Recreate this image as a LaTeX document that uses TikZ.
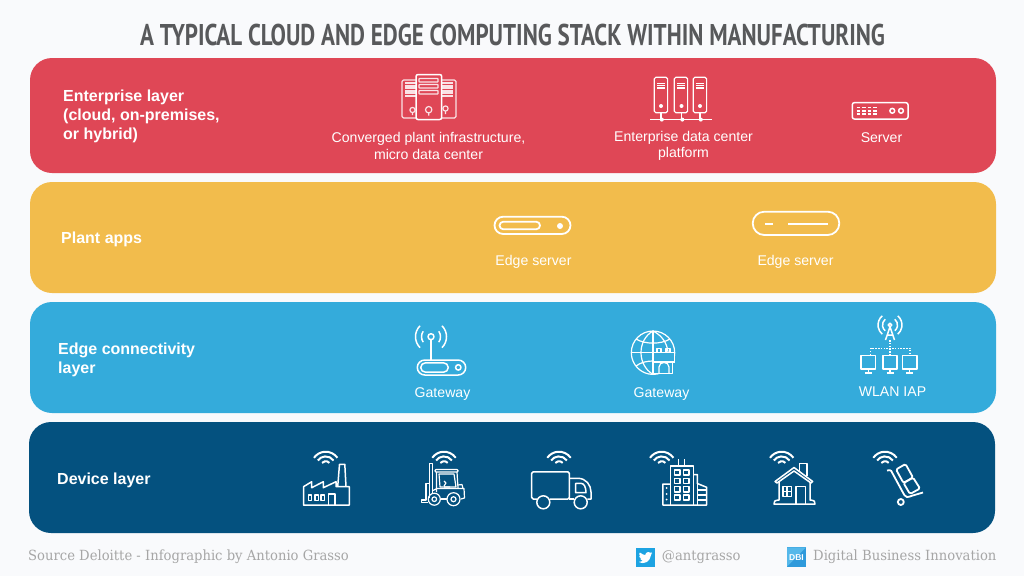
\documentclass[tikz,border=0pt]{standalone}
\usepackage{fontspec}
\setmainfont{Liberation Sans}
\newfontfamily\titlefont[FakeStretch=0.767]{PT Sans Bold}
\newfontfamily\slabfont[FakeStretch=0.94]{DejaVu Serif}
\definecolor{bgc}{HTML}{F9FAFC}
\definecolor{redc}{HTML}{DF4756}
\definecolor{yelc}{HTML}{F2BC4C}
\definecolor{bluc}{HTML}{34ABDB}
\definecolor{navc}{HTML}{04517F}
\definecolor{titc}{HTML}{58595B}
\definecolor{grec}{HTML}{A6A6A6}
\definecolor{twic}{HTML}{1DA3E2}
\definecolor{dbic}{HTML}{2F9ADB}
\definecolor{dbil}{HTML}{55B8EA}
\tikzset{
  panel/.style={rounded corners=22pt,inner sep=0,outer sep=0,minimum width=966pt},
  sub/.style={text=white,font=\fontsize{14.1}{16.5}\selectfont,align=center,inner sep=0},
  lay/.style={text=white,font=\fontsize{16}{19}\selectfont\bfseries,align=left,inner sep=0,anchor=west},
  foot/.style={text=grec,inner sep=0},
  ic/.style={draw=white,line width=1.5pt,line join=round},
  icf/.style={fill=white,draw=none},
  pics/wifi/.style={code={
    \draw[white,line width=2pt] (35:14.3pt) arc[start angle=35,end angle=145,radius=14.3pt];
    \draw[white,line width=2pt] (35:9.6pt) arc[start angle=35,end angle=145,radius=9.6pt];
    \draw[white,line width=2pt] (40:4.8pt) arc[start angle=40,end angle=140,radius=4.8pt];
  }}
}
\begin{document}
\begin{tikzpicture}[x=1pt,y=-1pt]
\useasboundingbox (0,0) rectangle (1024,576);
\fill[bgc] (0,0) rectangle (1024,576);
\node[text=titc,inner sep=0,font=\fontsize{30}{32}\selectfont\titlefont] (title) at (512.5,35) {A TYPICAL CLOUD AND EDGE COMPUTING STACK WITHIN MANUFACTURING};

\node[panel,fill=redc,minimum height=115pt] (p1) at (513,115.5) {};
\node[panel,fill=yelc,minimum height=111pt] (p2) at (513,237.5) {};
\node[panel,fill=bluc,minimum height=111pt] (p3) at (513,357.5) {};
\node[panel,fill=navc,minimum height=111pt] (p4) at (512,477.5) {};

\node[lay] (l1) at (63,116.5) {Enterprise layer\\(cloud, on-premises,\\or hybrid)};
\node[lay] (l2) at (61,239.5) {Plant apps};
\node[lay] (l3) at (58,360) {Edge connectivity\\layer};
\node[lay] (l4) at (57,480.5) {Device layer};

\node[sub] (s1) at (428.5,146) {Converged plant infrastructure,\\micro data center};
\node[sub] (s2) at (683.5,146) {Enterprise data center\\platform};
\node[sub] (s3) at (881.5,138) {Server};
\node[sub] (s4) at (533.5,262) {Edge server};
\node[sub] (s5) at (795.5,262) {Edge server};
\node[sub] (s6) at (442.5,394) {Gateway};
\node[sub] (s7) at (661.5,394) {Gateway};
\node[sub] (s8) at (892.5,392) {WLAN IAP};

% converged plant infrastructure
\begin{scope}[ic,line width=1.2pt,draw=white!85!redc]
\draw[rounded corners=1.5pt] (416,80) -- (402,80) -- (402,118) -- (416,118);
\draw[rounded corners=1.5pt] (442,80) -- (456,80) -- (456,118) -- (442,118);
\foreach \y in {83,88,93}{
  \draw (405,\y) -- (416,\y) (405,\y+3) -- (416,\y+3);
  \draw (442,\y) -- (453,\y) (442,\y+3) -- (453,\y+3);
}
\draw (412.5,110) circle[radius=2.6pt] (412.5,112.6) -- (412.5,115);
\draw (445.5,108.5) circle[radius=2.6pt] (445.5,111) -- (445.5,114);
\fill[redc,draw=white,line width=1.5pt,rounded corners=2pt] (416,74.5) rectangle (441.7,119.5);
\foreach \y in {78.5,84.5,90.5}{ \draw[rounded corners=.5pt] (419,\y) rectangle (438,\y+3.5); }
\draw (428.7,109.7) circle[radius=3.2pt] (428.7,113) -- (428.7,115.5);
\end{scope}

% enterprise data center platform
\begin{scope}[ic,line width=1.2pt]
\foreach \x/\c in {654.3/661,674.3/681.5,693.3/700}{
  \draw[rounded corners=1.5pt] (\x,77.3) rectangle (\x+13.3,112.7);
  \draw (\x+3,83.5) -- (\x+10.3,83.5) (\x+3,85.7) -- (\x+10.3,85.7) (\x+3,87.9) -- (\x+10.3,87.9);
  \fill[white] (\c,106) circle[radius=2pt];
  \draw (\c,112.7) -- (\c,119.6);
  \fill[white] (\c+.8,119.6) circle[radius=2pt];
}
\draw (650,119.5) -- (712,119.5);
\end{scope}

% server
\begin{scope}[ic]
\draw[rounded corners=2pt] (852.3,102.7) rectangle (908,119);
\foreach \y in {107.5,110.8,114.1}{
  \draw[line width=1.5pt,dash pattern=on 3.5pt off 2.1pt] (856.5,\y) -- (878.5,\y);
}
\draw (892.3,110.8) circle[radius=2.4pt] (901,110.8) circle[radius=2.4pt];
\end{scope}

% edge servers
\begin{scope}[ic]
\draw[line width=1.8pt,rounded corners=8.7pt] (494.5,216.7) rectangle (570.5,234);
\draw[line width=1.8pt,rounded corners=3.8pt] (499.5,221.7) rectangle (540,229.3);
\fill[white] (560,226) circle[radius=3pt];
\draw[line width=1.8pt,rounded corners=11.6pt] (752.7,211.7) rectangle (839.3,235);
\draw[line width=1.8pt] (765.3,224) -- (772.7,224) (788,224) -- (828,224);
\end{scope}

% gateway 1
\begin{scope}[ic]
\draw[rounded corners=7.5pt] (417.3,360) rectangle (465.7,375);
\draw[rounded corners=4.8pt] (420.7,362.8) rectangle (448.3,372.2);
\draw (458.3,367.4) circle[radius=2.7pt];
\draw (431,339.7) -- (431,360);
\draw (431,336.7) circle[radius=3pt];
\begin{scope}[shift={(431,336.7)}]
\draw (35:9.5pt) arc[start angle=35,end angle=-35,radius=9.5pt];
\draw (145:9.5pt) arc[start angle=145,end angle=215,radius=9.5pt];
\draw (45:15.5pt) arc[start angle=45,end angle=-45,radius=15.5pt];
\draw (135:15.5pt) arc[start angle=135,end angle=225,radius=15.5pt];
\end{scope}
\end{scope}

% gateway 2 globe
\begin{scope}[ic,line width=1.2pt]
\draw (653,352.7) circle[radius=21.7pt];
\draw (653,331) -- (653,374.4);
\draw (632,352.7) -- (674.5,352.7);
\draw (636,339) .. controls (645,344.5) and (661,344.5) .. (670,339);
\draw (636,366) .. controls (641,362) and (648,361) .. (653,361);
\draw (653,331) .. controls (637,340) and (637,365) .. (653,374.4);
\draw (653,331) .. controls (663,336) and (667,344) .. (668,352);
\fill[bluc] (653.5,353) rectangle (675,373);
\draw (653.5,352.5) -- (674.5,352.5) -- (674.5,362) -- (672.5,362) -- (672.5,373.3) -- (653.5,373.3) -- (653.5,362);
\draw (653.5,362) -- (674.5,362);
\draw (659,373.3) -- (659,367) .. controls (659,361) and (669,361) .. (669,367) -- (669,373.3);
\draw (657,352.5) -- (657,348.5) -- (661,348.5) -- (661,352.5);
\draw (666,352.5) -- (666,348.5) -- (670,348.5) -- (670,352.5);
\end{scope}

% WLAN IAP
\begin{scope}[ic]
\draw (890,325) circle[radius=1.8pt];
\draw (890,326.8) -- (885.5,340) (890,326.8) -- (894.5,340) (887.5,335) -- (892.5,335);
\begin{scope}[shift={(890,325)}]
\draw (50:7.5pt) arc[start angle=50,end angle=-50,radius=7.5pt];
\draw (130:7.5pt) arc[start angle=130,end angle=230,radius=7.5pt];
\draw (50:12pt) arc[start angle=50,end angle=-50,radius=12pt];
\draw (130:12pt) arc[start angle=130,end angle=230,radius=12pt];
\end{scope}
\draw[dash pattern=on 1.5pt off 1.3pt] (890,340) -- (890,348.3);
\draw[dash pattern=on 1.5pt off 1.3pt] (870.7,355) -- (870.7,348.3) -- (910,348.3) -- (910,355);
\draw[dash pattern=on 1.5pt off 1.3pt] (890,348.3) -- (890,355);
\foreach \x in {861.2,883,902.6}{
  \draw (\x,355.7) rectangle (\x+14.2,369);
  \draw (\x+7.1,369) -- (\x+7.1,373) (\x+3.6,373) -- (\x+10.6,373);
}
\end{scope}

% wifi glyphs
\pic at (325.7,466) {wifi};
\pic at (444,466) {wifi};
\pic at (559,466) {wifi};
\pic at (661.7,466) {wifi};
\pic at (781.7,466) {wifi};
\pic at (885,466) {wifi};

% factory
\begin{scope}[ic]
\draw (303.5,505) -- (303.5,486.7) -- (311.7,481.7) -- (311.7,487.7) -- (323.3,481.7) -- (323.3,487.7) -- (336,481.7) -- (336,486.7) -- (349.3,486.7) -- (349.3,505) -- cycle;
\draw (337.7,486.7) -- (339.5,464.3) -- (344.8,464.3) -- (346,486.7);
\draw[line width=1.2pt] (308.5,495) rectangle (311.7,500.7) (315,495) rectangle (318.2,500.7) (321,495) rectangle (324.2,500.7);
\draw (328.5,505) -- (328.5,494) -- (335,494) -- (335,505);
\end{scope}

% forklift
\begin{scope}[ic,line width=1.2pt]
\draw (429.3,498) -- (429.3,463.7) -- (432.7,463.7) -- (432.7,494);
\draw (429.3,483.5) -- (426,483.5) -- (426,500) -- (421.5,500) -- (421.5,502.5) -- (428,502.5);
\draw[rounded corners=1pt] (435,469.5) rectangle (458,472);
\draw (436.5,472) -- (436.5,492) (457,472) -- (458,488);
\draw (439,474) -- (454,474) -- (456,487) -- (440,487) -- cycle;
\draw (444,486) -- (446,483) -- (444,481) (444,487) -- (450,487);
\draw (433,490.5) -- (437,488.5) -- (464,488.5) -- (464.5,498) -- (461,499);
\draw (441,499) -- (446.5,499);
\draw (458,485) -- (462,484.5) -- (463,488.5);
\draw (434.3,499.2) circle[radius=6pt] (434.3,499.2) circle[radius=2.3pt];
\draw (453.5,499.2) circle[radius=6.5pt] (453.5,499.2) circle[radius=2.5pt];
\end{scope}

% truck
\begin{scope}[ic]
\draw[rounded corners=1.5pt] (537,499) -- (531.7,499) -- (531.7,471.8) -- (569.3,471.8) -- (569.3,499) -- (550,499);
\draw (569.3,478.3) -- (578,478.3) .. controls (586,478.3) and (591,485) .. (591,492) -- (591,499) -- (587.3,499);
\draw (569.3,499) -- (574,499);
\draw (575.7,483.3) -- (581,483.3) .. controls (584,483.3) and (586,487) .. (586,492.7) -- (575.7,492.7) -- cycle;
\draw (543.3,502.3) circle[radius=6.5pt] (580.7,502.3) circle[radius=6.5pt];
\end{scope}

% office buildings
\begin{scope}[ic]
\draw (670.7,505) -- (670.7,466) -- (693.3,466) -- (693.3,505);
\draw (678.3,466) -- (678.3,459.3) (684.3,466) -- (684.3,459.3);
\foreach \y in {470,478.3,486.7,495}{
  \draw (674.5,\y) rectangle (679.8,\y+5.2) (683.5,\y) rectangle (688.8,\y+5.2);
}
\draw (670.7,484) -- (662.9,484) -- (662.9,505) -- (706.7,505) -- (706.7,487.3) -- (697.3,483.5) -- (697.3,474.5) -- (693.3,474.5);
\draw (697.3,483.5) -- (697.3,505);
\draw (697.3,490) -- (706.7,490) (697.3,495) -- (706.7,495) (697.3,500) -- (706.7,500);
\fill[white] (666.7,488) circle[radius=1pt] (666.7,494) circle[radius=1pt] (666.7,499.5) circle[radius=1pt];
\end{scope}

% house
\begin{scope}[ic]
\draw (775,481.5) -- (794,467.5) -- (812.7,481.5) -- (811,483) -- (794,471) -- (777,483) -- cycle;
\draw (779,482) -- (779,500) .. controls (775,500) and (773,502) .. (774,504) -- (815,504) .. controls (816,502) and (814,500) .. (810,500) -- (810,482);
\draw (799.5,470.5) -- (799.5,463.7) -- (807.2,463.7) -- (807.2,476);
\draw (782.8,486.7) rectangle (791.7,496.7) (787.2,486.7) -- (787.2,496.7) (782.8,491.7) -- (791.7,491.7);
\draw (795.8,504) -- (795.8,486.7) -- (805.7,486.7) -- (805.7,504);
\end{scope}

% hand truck
\begin{scope}[ic,line width=1.8pt]
\draw[rounded corners=1pt] (887,470.5) -- (890.7,470) -- (904,494.5) .. controls (906,497.5) and (908,497.5) .. (911,496) -- (923,492.5);
\draw[rounded corners=1.5pt] (896,469.5) -- (905.5,464) -- (913,477.5) -- (903.5,483) -- cycle;
\draw[rounded corners=1.5pt] (903.5,483) -- (913,477.5) -- (920,488.5) -- (910,494) -- cycle;
\draw (900.8,502) circle[radius=3pt];
\end{scope}

% footer
\node[foot,anchor=west,font=\fontsize{14}{16}\selectfont\slabfont] (src) at (28,556.5) {Source Deloitte - Infographic by Antonio Grasso};
\node[inner sep=0,outer sep=0,fill=twic,minimum width=19pt,minimum height=18.6pt] (tw) at (645.5,557.5) {};
\begin{scope}[shift={(638.7,550.7)},x=.57pt,y=-.57pt]
\fill[white,rounded corners=.4pt] (24,4.6) -- (21.1,5.35) -- (23.3,2.6) -- (20.2,3.8) -- (18.5,2.5) -- (16.6,2.3) -- (14,3.2) -- (12,5.5) -- (11.8,7.7) -- (7.2,6.4) -- (3.8,4.2) -- (1.65,3.2) -- (1,5.6) -- (1.5,8) -- (3.2,9.7) -- (0.9,9.1) -- (1.5,11.5) -- (4.9,13.9) -- (2.7,14) -- (4.2,16.2) -- (7.3,17.4) -- (4,19) -- (0,19.5) -- (4,21.2) -- (7.6,21.7) -- (14,20) -- (19,15) -- (21.5,8) -- (21.5,7) -- cycle;
\end{scope}
\node[foot,anchor=west,font=\fontsize{14}{16}\selectfont\slabfont] (tw2) at (661.7,557) {@antgrasso};
\node[inner sep=0,outer sep=0,fill=dbic,minimum width=19pt,minimum height=19.4pt] (db) at (796.5,557) {};
\fill[dbil] (787,547.3) -- (806,547.3) -- (787,566.7) -- cycle;
\node[inner sep=0,text=white,font=\fontsize{8.5}{9}\selectfont\bfseries] (db2) at (796.5,558) {DBI};
\node[foot,anchor=west,font=\fontsize{14}{16}\selectfont\slabfont] (db3) at (813,557) {Digital Business Innovation};
\end{tikzpicture}
\end{document}
